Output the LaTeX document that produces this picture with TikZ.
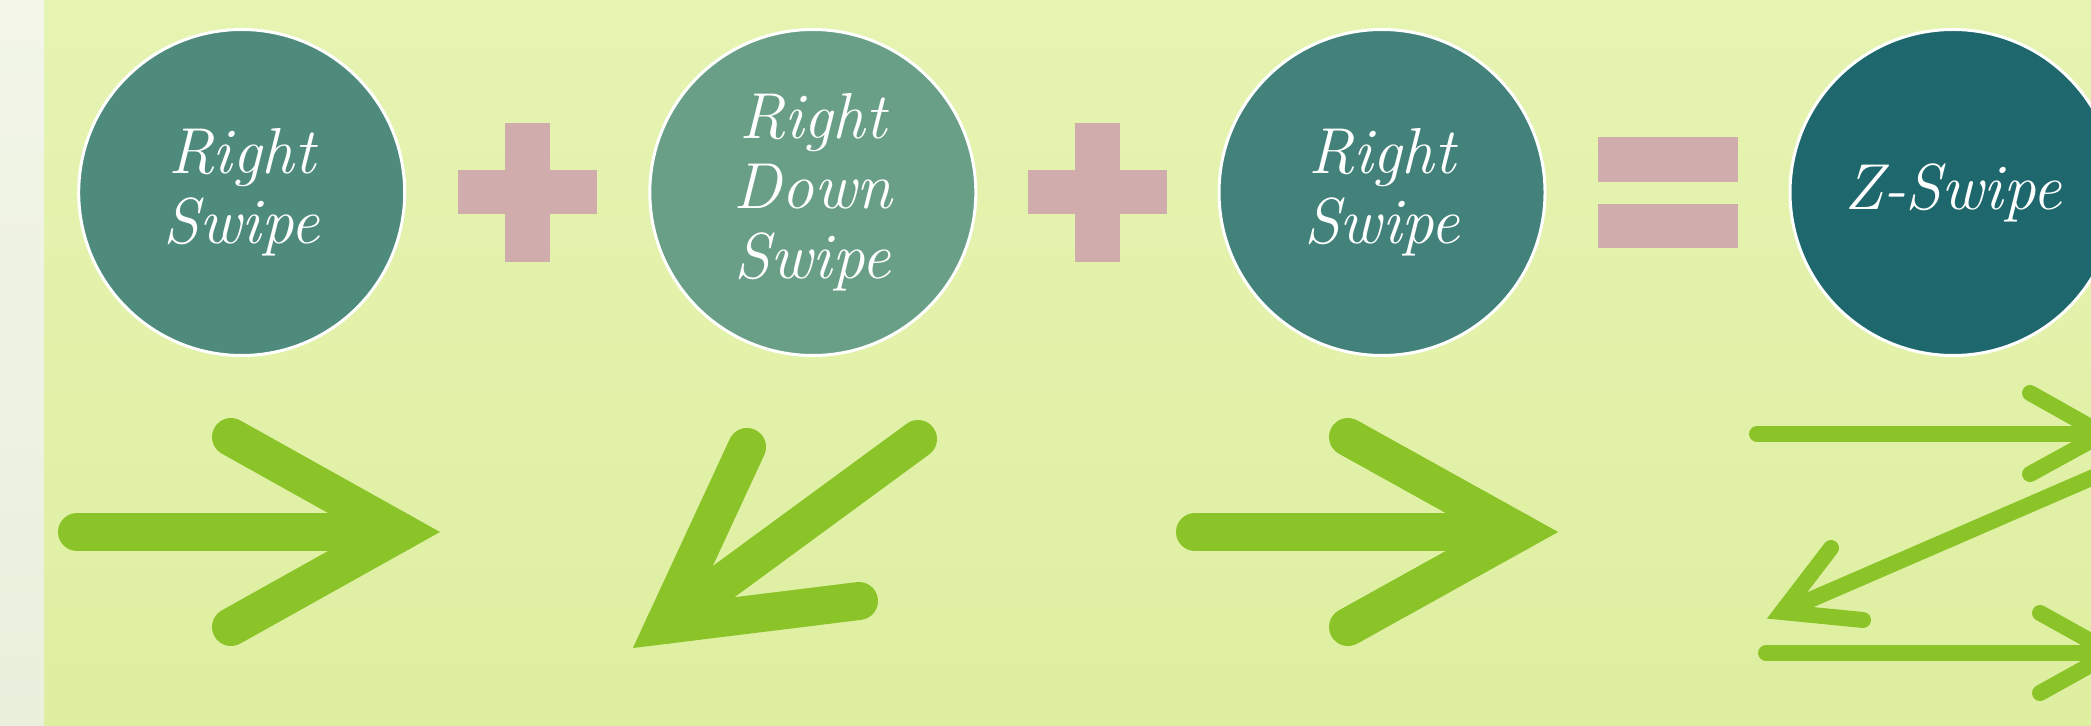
\documentclass[tikz,border=0pt]{standalone}
\usepackage{fontspec}
\definecolor{bgtop}{HTML}{E5F4B1}
\definecolor{bgbot}{HTML}{DEEFA1}
\definecolor{striptop}{HTML}{F2F5E8}
\definecolor{stripbot}{HTML}{EAF0DC}
\definecolor{cone}{HTML}{4E8B7C}
\definecolor{ctwo}{HTML}{6A9F87}
\definecolor{cthree}{HTML}{42827A}
\definecolor{cfour}{HTML}{1E686D}
\definecolor{opcol}{HTML}{D0ACAC}
\definecolor{arrowgreen}{HTML}{8AC428}
\tikzset{
  circ/.style={circle, draw=white, line width=1.5pt, minimum size=163pt, inner sep=0pt,
    text=white, align=center, font=\fontsize{32.5}{35}\selectfont\itshape},
  bigarrow/.style={draw=arrowgreen, line width=19pt, line cap=round, line join=miter, miter limit=10},
  smallarrow/.style={draw=arrowgreen, line width=8pt, line cap=round, line join=miter, miter limit=10},
  opshape/.style={fill=opcol}
}
\begin{document}
\begin{tikzpicture}[x=0.5pt,y=-0.5pt]
\useasboundingbox (0,0) rectangle (2091,726);
\clip (0,0) rectangle (2091,726);
% background
\shade[top color=bgtop, bottom color=bgbot] (44,0) rectangle (2091,726);
\shade[top color=striptop, bottom color=stripbot] (0,0) rectangle (44,726);
% circles
\node[circ, fill=cone]   (c1) at (241.7,192.5) {Right\\Swipe};
\node[circ, fill=ctwo]   (c2) at (812.8,192.5) {Right\\Down\\Swipe};
\node[circ, fill=cthree] (c3) at (1382,192.5)  {Right\\Swipe};
\node[circ, fill=cfour]  (c4) at (1953,192.5)  {Z-Swipe};
% plus 1
\fill[opshape] (505,123) rectangle (550,262);
\fill[opshape] (458,170.5) rectangle (597,214.5);
% plus 2
\fill[opshape] (1075,123) rectangle (1120,262);
\fill[opshape] (1028,170.5) rectangle (1167,214.5);
% equals
\fill[opshape] (1598,137) rectangle (1738,182);
\fill[opshape] (1598,204) rectangle (1738,248);
% arrow 1 (right)
\draw[bigarrow] (77,532) -- (401,532);
\draw[bigarrow] (231,437) -- (401,532) -- (231,627);
% arrow 2 (down-left)
\draw[bigarrow] (918,439) -- (664.5,625);
\draw[bigarrow] (747,447) -- (664.5,625) -- (859,601);
% arrow 3 (right)
\draw[bigarrow] (1195,532) -- (1519,532);
\draw[bigarrow] (1348,437) -- (1519,532) -- (1348,627);
% Z arrows
\draw[smallarrow] (1757,434) -- (2103,434);
\draw[smallarrow] (2030,393) -- (2103,434) -- (2030,474);
\draw[smallarrow] (2112,469) -- (1782,612);
\draw[smallarrow] (1831,548) -- (1782,612) -- (1863,620);
\draw[smallarrow] (1766,653) -- (2112,653);
\draw[smallarrow] (2040,613) -- (2112,653) -- (2040,693);
\end{tikzpicture}
\end{document}
